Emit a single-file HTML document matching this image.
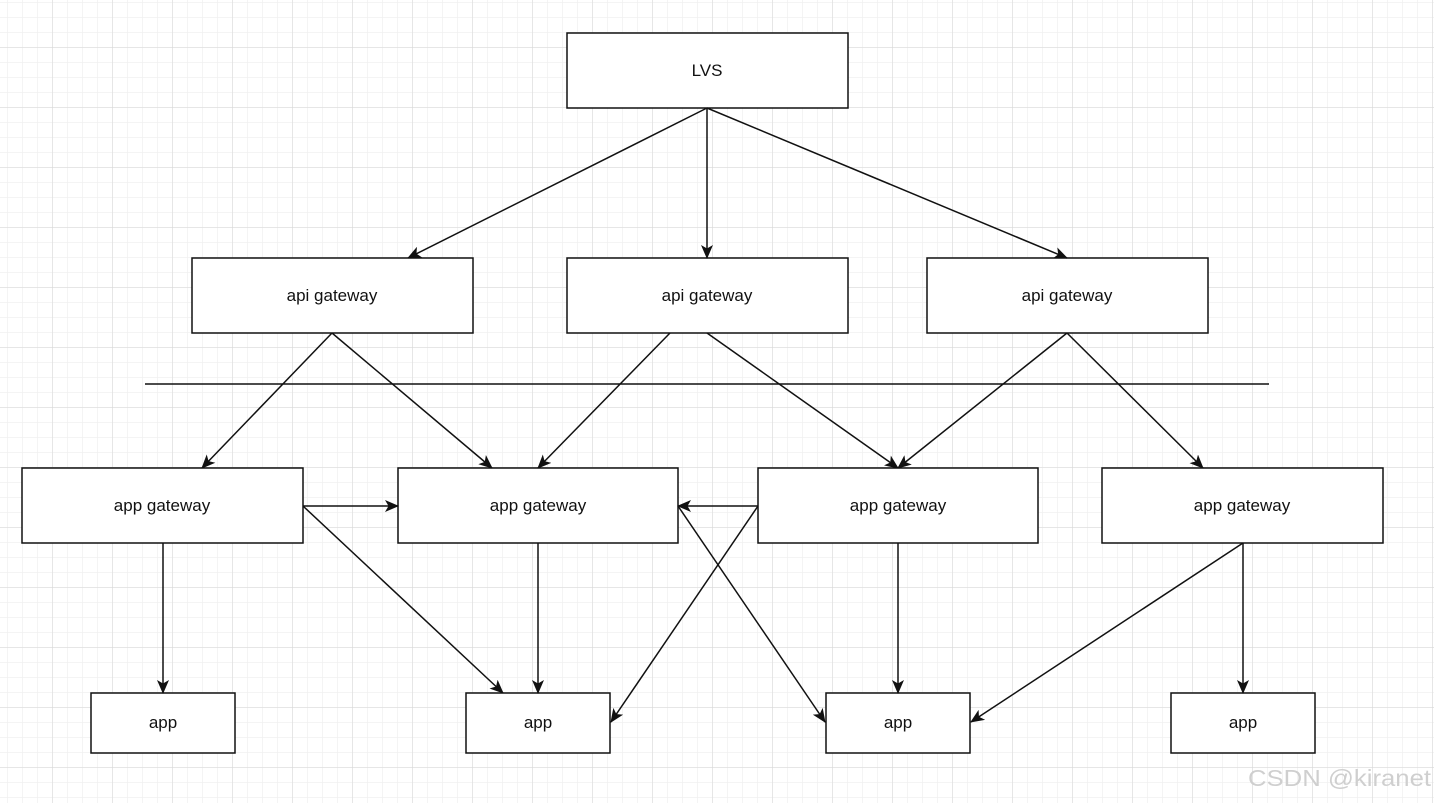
<!DOCTYPE html>
<html><head><meta charset="utf-8"><style>
html,body{margin:0;padding:0;background:#fff;}
svg{display:block;}
text{font-family:"Liberation Sans",sans-serif;font-size:17px;fill:#111;}
</style></head><body>
<svg width="1434" height="803" viewBox="0 0 1434 803" xmlns="http://www.w3.org/2000/svg">
<defs>
<pattern id="minor" x="7" y="2" width="15" height="15" patternUnits="userSpaceOnUse">
<path d="M0 0H15M0 0V15" stroke="#f0f0f0" stroke-width="1.5" fill="none"/>
</pattern>
<pattern id="major" x="52" y="47" width="60" height="60" patternUnits="userSpaceOnUse">
<path d="M0 0H60M0 0V60" stroke="#d6d6d6" stroke-width="1" fill="none"/>
</pattern>
<marker id="a" markerWidth="14" markerHeight="12" refX="13" refY="6" orient="auto" markerUnits="userSpaceOnUse" viewBox="0 0 14 12">
<path d="M0 0 L14 6 L0 12 L3.5 6 Z" fill="#111"/>
</marker>
</defs>
<rect width="1434" height="803" fill="#fff"/>
<rect width="1434" height="803" fill="url(#minor)"/>
<rect width="1434" height="803" fill="url(#major)"/>
<g fill="#fff" stroke="#111" stroke-width="1.5">
<rect x="567" y="33" width="281" height="75"/>
<rect x="192" y="258" width="281" height="75"/>
<rect x="567" y="258" width="281" height="75"/>
<rect x="927" y="258" width="281" height="75"/>
<rect x="22" y="468" width="281" height="75"/>
<rect x="398" y="468" width="280" height="75"/>
<rect x="758" y="468" width="280" height="75"/>
<rect x="1102" y="468" width="281" height="75"/>
<rect x="91" y="693" width="144" height="60"/>
<rect x="466" y="693" width="144" height="60"/>
<rect x="826" y="693" width="144" height="60"/>
<rect x="1171" y="693" width="144" height="60"/>
</g>
<line x1="145" y1="384" x2="1269" y2="384" stroke="#111" stroke-width="1.5"/>
<g stroke="#111" stroke-width="1.5" fill="none" marker-end="url(#a)">
<line x1="707" y1="108" x2="408" y2="258"/>
<line x1="707" y1="108" x2="707" y2="258"/>
<line x1="707" y1="108" x2="1067" y2="258"/>
<line x1="332" y1="333" x2="202" y2="468"/>
<line x1="332" y1="333" x2="492" y2="468"/>
<line x1="670" y1="333" x2="538" y2="468"/>
<line x1="707" y1="333" x2="898" y2="468"/>
<line x1="1067" y1="333" x2="898" y2="468"/>
<line x1="1067" y1="333" x2="1203" y2="468"/>
<line x1="303" y1="506" x2="398" y2="506"/>
<line x1="303" y1="506" x2="503" y2="693"/>
<line x1="163" y1="543" x2="163" y2="693"/>
<line x1="538" y1="543" x2="538" y2="693"/>
<line x1="758" y1="506" x2="678" y2="506"/>
<line x1="758" y1="506" x2="611" y2="722"/>
<line x1="678" y1="506" x2="825" y2="722"/>
<line x1="898" y1="543" x2="898" y2="693"/>
<line x1="1243" y1="543" x2="971" y2="722"/>
<line x1="1243" y1="543" x2="1243" y2="693"/>
</g>
<g text-anchor="middle">
<text x="707" y="76">LVS</text>
<text x="332" y="301">api gateway</text>
<text x="707" y="301">api gateway</text>
<text x="1067" y="301">api gateway</text>
<text x="162" y="511">app gateway</text>
<text x="538" y="511">app gateway</text>
<text x="898" y="511">app gateway</text>
<text x="1242" y="511">app gateway</text>
<text x="163" y="728">app</text>
<text x="538" y="728">app</text>
<text x="898" y="728">app</text>
<text x="1243" y="728">app</text>
</g>
<text x="1248" y="786" textLength="183" lengthAdjust="spacingAndGlyphs" style="font-size:23px;fill:#cfcfcf;">CSDN @kiranet</text>
</svg>
</body></html>
